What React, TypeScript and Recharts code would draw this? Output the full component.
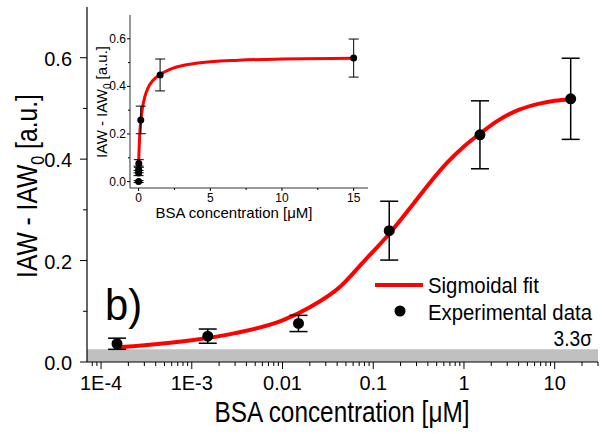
import React from 'react';
import { ComposedChart, Line, Scatter, ErrorBar, XAxis, YAxis, ReferenceArea } from 'recharts';

// measured BSA points (μM -> a.u.)
const concentration = [1.5e-4, 1.5e-3, 0.015, 0.15, 1.5, 15];
const signal = [0.036, 0.051, 0.076, 0.259, 0.448, 0.519];
const signalError = [0.011, 0.014, 0.016, 0.058, 0.067, 0.08];

// blank sample, only visible in the linear inset
const blankConcentration = [0];
const blankSignal = [0];
const blankError = [0.004];

// sigmoidal fit
const fitConcentration = [1.5e-4, 3e-4, 1e-3, 3e-3, 0.01, 0.02, 0.0435, 0.0785, 0.152, 0.28, 0.428, 0.653, 1, 1.52, 2.32, 4, 7, 10, 15];
const fitSignal = [0.029, 0.033, 0.043, 0.057, 0.082, 0.108, 0.149, 0.198, 0.254, 0.313, 0.355, 0.393, 0.425, 0.451, 0.475, 0.497, 0.51, 0.515, 0.518];

const lodLevel = 0.025; // 3.3 sigma band

// main (log) axis ticks
const logMajorTicks = [1e-4, 1e-3, 0.01, 0.1, 1, 10];
const logMajorLabels = ['1E-4', '1E-3', '0.01', '0.1', '1', '10'];
const logMinorTicks = [
  8e-5, 9e-5,
  2e-4, 3e-4, 4e-4, 5e-4, 6e-4, 7e-4, 8e-4, 9e-4,
  2e-3, 3e-3, 4e-3, 5e-3, 6e-3, 7e-3, 8e-3, 9e-3,
  0.02, 0.03, 0.04, 0.05, 0.06, 0.07, 0.08, 0.09,
  0.2, 0.3, 0.4, 0.5, 0.6, 0.7, 0.8, 0.9,
  2, 3, 4, 5, 6, 7, 8, 9,
  20, 30,
];
const yMajorTicks = [0, 0.2, 0.4, 0.6];
const yMinorTicks = [0.1, 0.3, 0.5];

// inset (linear) axis ticks
const insetXMajor = [0, 5, 10, 15];
const insetXMinor = [2.5, 7.5, 12.5];

const mainData = concentration.map((c, i) => ({ x: c, y: signal[i], err: signalError[i] }));
const insetData = [
  ...blankConcentration.map((c, i) => ({ x: c, y: blankSignal[i], err: blankError[i] })),
  ...mainData,
];
const fitData = fitConcentration.map((c, i) => ({ x: c, y: fitSignal[i] }));

const font = "'Liberation Sans', Arial, sans-serif";

// the original figure uses a condensed Arial; squeeze horizontally
const SqText = ({ x, y, size, sx = 1, anchor = 'start', rotate = 0, children }: any) => (
  <g transform={`translate(${x},${y})${rotate ? ` rotate(${rotate})` : ''} scale(${sx},1)`}>
    <text x={0} y={0} textAnchor={anchor} fontSize={size} fontFamily={font} fill="#000">
      {children}
    </text>
  </g>
);

const LogTick = (props: any) => {
  const { x, y, payload } = props;
  const idx = logMajorTicks.indexOf(payload.value);
  const major = idx >= 0;
  return (
    <g>
      <line x1={x} x2={x} y1={y} y2={y + (major ? 7 : 4)} stroke="#000" strokeWidth={1} />
      {major && <SqText x={x} y={y + 28} size={21} sx={0.95} anchor="middle">{logMajorLabels[idx]}</SqText>}
    </g>
  );
};

const MainYTick = (props: any) => {
  const { x, y, payload } = props;
  const major = yMajorTicks.includes(payload.value);
  return (
    <g>
      <line x1={x - (major ? 7 : 4)} x2={x} y1={y} y2={y} stroke="#000" strokeWidth={1} />
      {major && <SqText x={x - 15} y={y + 8} size={21} sx={0.95} anchor="end">{payload.value.toFixed(1)}</SqText>}
    </g>
  );
};

const InsetXTick = (props: any) => {
  const { x, y, payload } = props;
  const major = insetXMajor.includes(payload.value);
  return (
    <g>
      <line x1={x} x2={x} y1={y} y2={y + (major ? 3 : 2)} stroke="#000" strokeWidth={1} />
      {major && (
        <text x={x} y={y + 14} textAnchor="middle" fontSize={12} fontFamily={font} fill="#000">
          {payload.value}
        </text>
      )}
    </g>
  );
};

const InsetYTick = (props: any) => {
  const { x, y, payload } = props;
  const major = yMajorTicks.includes(payload.value);
  return (
    <g>
      <line x1={x - (major ? 3 : 2)} x2={x} y1={y} y2={y} stroke="#000" strokeWidth={1} />
      {major && (
        <text x={x - 4} y={y + 4} textAnchor="end" fontSize={12} fontFamily={font} fill="#000">
          {payload.value.toFixed(1)}
        </text>
      )}
    </g>
  );
};

const Inset = () => (
  <div style={{ position: 'absolute', left: 90, top: 8, width: 285, height: 214 }}>
    <ComposedChart width={285} height={214} margin={{ top: 7, right: 7, left: 0, bottom: 0 }}>
      <XAxis
        dataKey="x"
        type="number"
        domain={[-0.6, 16]}
        allowDataOverflow
        ticks={[...insetXMajor, ...insetXMinor]}
        interval={0}
        tickSize={0}
        tickMargin={0}
        tickLine={false}
        tick={<InsetXTick />}
        height={34}
        axisLine={{ stroke: '#333' }}
      />
      <XAxis xAxisId="top" orientation="top" type="number" domain={[0, 1]} height={0} tick={false} tickLine={false} axisLine={{ stroke: '#333' }} />
      <YAxis
        type="number"
        domain={[-0.027, 0.7]}
        allowDataOverflow
        ticks={[...yMajorTicks, ...yMinorTicks]}
        interval={0}
        tickSize={0}
        tickMargin={0}
        tickLine={false}
        tick={<InsetYTick />}
        width={40}
        axisLine={{ stroke: '#333' }}
      />
      <YAxis yAxisId="right" orientation="right" type="number" domain={[0, 1]} width={0} tick={false} tickLine={false} axisLine={{ stroke: '#333' }} />
      <Line data={fitData} dataKey="y" type="monotone" stroke="#ff0000" strokeWidth={3} dot={false} isAnimationActive={false} />
      <Scatter data={insetData} dataKey="y" fill="#000" shape={(p: any) => <circle cx={p.cx} cy={p.cy} r={3.5} fill="#000" />} isAnimationActive={false}>
        <ErrorBar dataKey="err" direction="y" width={5} stroke="#000" strokeWidth={1} isAnimationActive={false} />
      </Scatter>
    </ComposedChart>
    <svg width={285} height={214} style={{ position: 'absolute', left: 0, top: 0, pointerEvents: 'none' }}>
      <text transform="translate(17,94) rotate(-90)" textAnchor="middle" fontSize={15} fontFamily={font} fill="#000">
        IAW - IAW<tspan dy={4} fontSize={10}>0</tspan><tspan dy={-4}> [a.u.]</tspan>
      </text>
      <text x={144} y={210} textAnchor="middle" fontSize={15} fontFamily={font} fill="#000">
        BSA concentration [μM]
      </text>
    </svg>
  </div>
);

export default function App() {
  return (
    <div style={{ position: 'absolute', left: 0, top: 0, width: 602, height: 434, background: '#fff', fontFamily: font }}>
      <ComposedChart width={602} height={434} margin={{ top: 7, right: 4, left: 0, bottom: 0 }}>
        <XAxis
          dataKey="x"
          type="number"
          scale="log"
          domain={[7e-5, 30]}
          allowDataOverflow
          ticks={[...logMajorTicks, ...logMinorTicks]}
          interval={0}
          tickSize={0}
          tickMargin={0}
          tickLine={false}
          tick={<LogTick />}
          height={72}
          axisLine={{ stroke: '#000', strokeWidth: 1.2 }}
        />
        <XAxis xAxisId="top" orientation="top" type="number" domain={[0, 1]} height={0} tick={false} tickLine={false} axisLine={{ stroke: '#555' }} />
        <YAxis
          type="number"
          domain={[0, 0.7]}
          allowDataOverflow
          ticks={[...yMajorTicks, ...yMinorTicks]}
          interval={0}
          tickSize={0}
          tickMargin={0}
          tickLine={false}
          tick={<MainYTick />}
          width={87}
          axisLine={{ stroke: '#000', strokeWidth: 1.2 }}
        />
        <YAxis yAxisId="right" orientation="right" type="number" domain={[0, 1]} width={0} tick={false} tickLine={false} axisLine={{ stroke: '#000' }} />
        <ReferenceArea y1={0} y2={lodLevel} fill="#c0c0c0" fillOpacity={1} stroke="none" ifOverflow="hidden" />
        <Line data={fitData} dataKey="y" type="monotone" stroke="#ff0000" strokeWidth={4} dot={false} isAnimationActive={false} />
        <Scatter data={mainData} dataKey="y" fill="#000" shape={(p: any) => <circle cx={p.cx} cy={p.cy} r={5.5} fill="#000" />} isAnimationActive={false}>
          <ErrorBar dataKey="err" direction="y" width={9} stroke="#000" strokeWidth={1.5} isAnimationActive={false} />
        </Scatter>
      </ComposedChart>
      <Inset />
      <svg width={602} height={434} style={{ position: 'absolute', left: 0, top: 0, pointerEvents: 'none' }}>
        <SqText x={37} y={186} size={29} sx={0.85} rotate={-90} anchor="middle">
          IAW - IAW<tspan dy={7} fontSize={19}>0</tspan><tspan dy={-7}> [a.u.]</tspan>
        </SqText>
        <SqText x={342} y={422} size={29} sx={0.84} anchor="middle">BSA concentration [μM]</SqText>
        <SqText x={105} y={320} size={44} sx={0.95}>b)</SqText>
        <line x1={375} x2={423} y1={285} y2={285} stroke="#ff0000" strokeWidth={4} />
        <SqText x={428} y={293} size={23} sx={0.885}>Sigmoidal fit</SqText>
        <circle cx={400} cy={311} r={5.5} fill="#000" />
        <SqText x={428} y={320} size={23} sx={0.885}>Experimental data</SqText>
        <SqText x={592} y={346} size={22} sx={0.87} anchor="end">3.3σ</SqText>
      </svg>
    </div>
  );
}
